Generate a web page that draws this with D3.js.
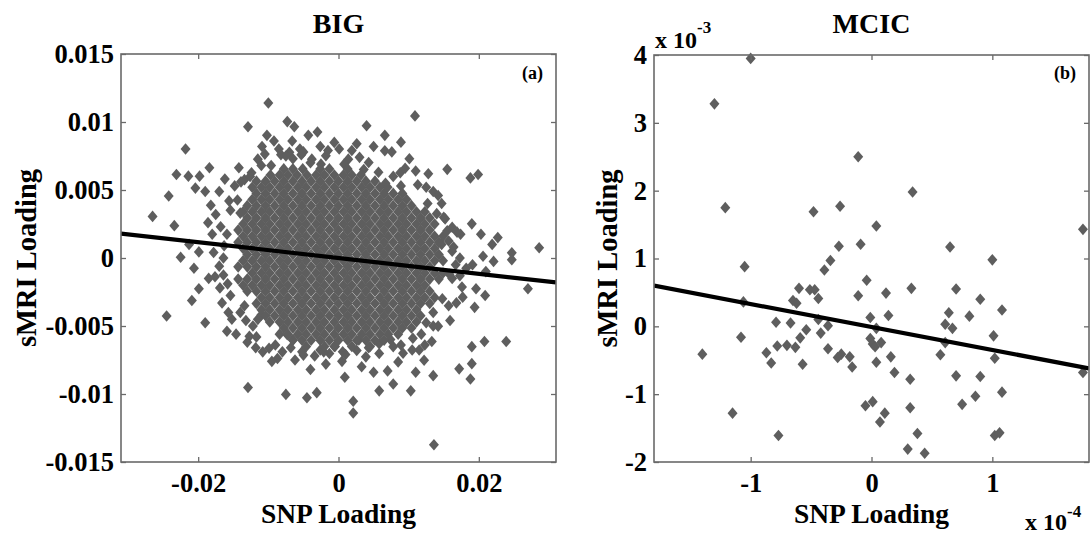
<!DOCTYPE html>
<html>
<head>
<meta charset="utf-8">
<script src="https://cdn.jsdelivr.net/npm/d3@7"></script>
<style>
  html, body { margin: 0; padding: 0; background: #fff; }
  svg { display: block; }
  text { font-family: "Liberation Serif", "Times New Roman", serif; font-weight: bold; fill: #000; }
</style>
</head>
<body>
<svg id="chart" width="1090" height="534"></svg>
<script>
// ---------------- DATA ----------------
// Panel (a) BIG
const bigTitle = "BIG";
const bigXTicks = [-0.02, 0, 0.02];
const bigYTicks = [0.015, 0.01, 0.005, 0, -0.005, -0.01, -0.015];
const bigXDomain = [-0.031, 0.031];
const bigYDomain = [-0.015, 0.015];
// regression line end points
const bigFitX = [-0.031, 0.031];
const bigFitY = [0.0018, -0.0018];

// BIG scatter points, sparse / outer region, in units of 1e-3 : [SNP, sMRI]
const bigOuterMilli = [
  [-26.5,3.06],[-24.2,4.56],[-24.5,-4.26],[-23.4,2.38],[-23.1,6.14],[-21.8,8.02],[-21.4,6.02],
  [-22.5,0.05],[-21.3,1.0],[-20.9,-3.13],[-20.6,-0.75],[-20.4,5.14],[-19.8,6.02],[-18.4,6.64],
  [-19.9,-2.26],[-19.9,0.45],[-19.0,-4.76],[-19.0,4.89],[-18.2,3.88],[-18.0,1.75],[-18.5,-1.5],
  [-17.6,-1.38],[-17.0,4.89],[-16.4,-1.25],[-15.9,-5.39],[-15.7,-4.01],[-14.2,6.64],[-12.9,-9.52],
  [-12.9,9.65],[-12.7,-5.76],[-10.0,11.4],[-10.2,9.02],[-8.7,-7.39],[-9.9,-6.64],[-7.5,-10.03],
  [-7.3,10.03],[-6.3,9.65],[-4.5,-10.28],[-3.1,-9.9],[-3.0,9.27],[-4.3,9.02],[0.9,-8.77],
  [2.1,-10.53],[2.1,-11.4],[4.0,9.72],[2.6,8.4],[5.8,-9.77],[6.6,9.02],[7.8,-9.27],[8.9,8.52],
  [10.3,-9.77],[10.9,10.45],[11.0,-8.4],[11.5,-6.77],[13.5,-8.65],[13.6,-13.73],[13.5,4.89],
  [13.5,-4.01],[13.3,-6.14],[15.5,6.52],[14.0,3.26],[15.2,2.88],[16.2,2.26],[17.2,-8.15],
  [17.4,1.75],[17.3,0.0],[17.7,-2.88],[17.6,-2.13],[18.8,5.89],[19.9,6.14],[18.8,-8.9],
  [19.0,-7.77],[19.0,-6.52],[19.0,2.51],[19.1,-0.5],[19.4,-3.63],[19.6,-2.26],[20.3,1.75],
  [20.6,0.13],[20.8,-6.14],[20.9,-2.76],[21.0,-1.0],[21.9,1.0],[22.1,-0.25],[22.7,1.5],
  [23.9,-6.14],[24.7,0.38],[24.7,-0.13],[27.0,-2.26],[28.6,0.75],[18.2,-0.75],[16.7,-0.5],
  [16.2,0.5],[15.7,1.25],[14.7,1.0],[16.2,-1.5],[15.7,-3.51],[14.2,-5.01],[12.5,-4.76],
  [12.2,-7.52],[10.5,-6.77],[8.5,-7.64],[7.8,-6.52],[5.8,-7.02],[3.9,-7.27],[2.9,-6.02],
  [0.6,-6.89],[-1.3,-7.02],[-2.6,-6.77],[-5.0,-7.14],[-6.5,-6.02],[-7.3,-5.64],[-11.5,-4.51],
  [-13.4,-3.51],[-15.4,-2.76],[-16.4,0.0],[-15.9,1.75],[-15.4,3.51],[-14.4,4.26],[-13.4,5.76],
  [-12.4,6.27],[-11.5,7.27],[-10.5,7.64],[-8.5,8.02],[-7.0,7.77],[-5.5,8.02],[-3.8,7.27],
  [-1.8,7.52],[0.1,8.02],[1.4,7.27],[4.3,7.02],[6.6,7.89],[8.8,6.27],[11.3,5.39],[12.7,4.01],
  [14.7,4.01],
  [-17.5,3.2],[-16.8,2.3],[-16.3,0.9],[-17.0,-0.6],[-15.8,-1.9],[-16.6,-3.3],[-15.2,-4.5],
  [-14.8,5.3],[-15.6,4.2],[-14.6,-5.6],[-13.0,-6.2],[-11.7,-5.8],[-10.8,-6.9],[-9.5,-7.6],
  [-6.2,-7.5],[-4.0,-8.2],[-1.8,-7.8],[0.5,-7.6],[3.3,-8.0],[5.0,-8.4],[7.0,-8.3],[9.2,-7.0],
  [11.8,-5.6],[13.5,-5.0],[14.8,-3.0],[15.8,-1.2],[16.4,0.8],[15.5,2.0],[15.0,3.0],[14.2,4.6],
  [12.5,5.2],[11.0,6.4],[9.5,6.6],[7.6,7.8],[5.0,8.2],[3.0,7.4],[-0.6,8.5],[-2.6,8.2],
  [-5.0,7.8],[-6.6,8.6],[-8.2,7.6],[-9.6,6.8],[-11.0,6.8],[-12.6,6.0],[-13.9,5.6],[-14.0,3.3],
  [-7.5,7.5],[-6.5,7.3],[-5.3,7.6],[-4.0,7.0],[-2.5,6.9],[-1.5,7.9],[0.8,6.9],[1.9,7.9],
  [3.6,6.5],[5.7,6.3],[6.7,5.5],[7.8,6.0],[8.9,5.3],
  [-14.0,-4.0],[-13.2,-4.6],[-12.2,-5.0],[-11.0,-4.2],
  [-8.0,-6.9],[-6.8,-6.6],[-5.2,-6.9],[-3.4,-7.2],[-2.1,-6.9],[-0.5,-6.5],[1.0,-7.1],
  [2.6,-6.8],[4.3,-6.6],[5.8,-6.3],[7.4,-6.0],[8.9,-6.4],[10.6,-5.9],[12.3,-6.4],
  [-16.9,-2.2],[-17.8,0.4],[-18.6,2.6],[-16.2,5.8],[-11.8,-6.6],[-9.0,-6.4],[15.9,-4.6],
  [16.8,-3.3],[17.3,-1.3],[16.9,1.9],[12.8,6.2],[10.1,7.3],[-10.9,8.2],[-9.2,8.6]
];

// BIG dense core, read row by row: [sMRI (1e-3), [SNP values (1e-3)]]
const bigCoreRowsMilli = [
  [6.55, [-7.8,-6.5,-5.1,-2.6,-1.3,1.3]],
  [6.1,  [-9.7,-8.4,-7.2,-5.9,-4.5,-3.2,-2.0,-0.6,0.7,1.9,3.2]],
  [5.65, [-11.7,-10.4,-9.1,-7.8,-6.5,-5.2,-3.9,-2.6,-1.3,0.0,1.3,2.6,3.9,5.2]],
  [5.2,  [-12.3,-11.0,-9.8,-8.4,-7.2,-5.8,-4.6,-3.2,-2.0,-0.6,0.7,1.9,3.3,4.5,5.9,7.0]],
  [4.75, [-11.7,-10.4,-9.1,-7.8,-6.5,-5.2,-3.9,-2.6,-1.3,0.0,1.3,2.6,3.9,5.2,6.5,7.8,9.1]],
  [4.3,  [-12.3,-11.0,-9.8,-8.4,-7.2,-5.8,-4.6,-3.2,-2.0,-0.6,0.7,1.9,3.3,4.5,5.9,7.1,8.5,9.7]],
  [3.85, [-13.0,-11.7,-10.4,-9.1,-7.8,-6.5,-5.2,-3.9,-2.6,-1.3,0.0,1.3,2.6,3.9,5.2,6.5,7.8,9.1,10.4]],
  [3.4,  [-13.6,-12.3,-11.0,-9.8,-8.4,-7.2,-5.8,-4.6,-3.2,-2.0,-0.6,0.7,1.9,3.3,4.5,5.9,7.1,8.5,9.7,11.1,12.3]],
  [2.95, [-13.0,-11.7,-10.4,-9.1,-7.8,-6.5,-5.2,-3.9,-2.6,-1.3,0.0,1.3,2.6,3.9,5.2,6.5,7.8,9.1,10.4,11.7,13.0]],
  [2.5,  [-13.6,-12.3,-11.0,-9.8,-8.4,-7.2,-5.8,-4.6,-3.2,-2.0,-0.6,0.7,1.9,3.3,4.5,5.9,7.1,8.5,9.7,11.1,12.3,13.7]],
  [2.05, [-14.3,-13.0,-11.7,-10.4,-9.1,-7.8,-6.5,-5.2,-3.9,-2.6,-1.3,0.0,1.3,2.6,3.9,5.2,6.5,7.8,9.1,10.4,11.7,13.0]],
  [1.6,  [-13.6,-12.3,-11.0,-9.8,-8.4,-7.2,-5.8,-4.6,-3.2,-2.0,-0.6,0.7,1.9,3.3,4.5,5.9,7.1,8.5,9.7,11.1,12.3,13.7,14.9]],
  [1.15, [-14.3,-13.0,-11.7,-10.4,-9.1,-7.8,-6.5,-5.2,-3.9,-2.6,-1.3,0.0,1.3,2.6,3.9,5.2,6.5,7.8,9.1,10.4,11.7,13.0,14.3]],
  [0.7,  [-13.6,-12.3,-11.0,-9.8,-8.4,-7.2,-5.8,-4.6,-3.2,-2.0,-0.6,0.7,1.9,3.3,4.5,5.9,7.1,8.5,9.7,11.1,12.3,13.7]],
  [0.25, [-13.0,-11.7,-10.4,-9.1,-7.8,-6.5,-5.2,-3.9,-2.6,-1.3,0.0,1.3,2.6,3.9,5.2,6.5,7.8,9.1,10.4,11.7,13.0,14.3]],
  [-0.2, [-13.6,-12.3,-11.0,-9.8,-8.4,-7.2,-5.8,-4.6,-3.2,-2.0,-0.6,0.7,1.9,3.3,4.5,5.9,7.1,8.5,9.7,11.1,12.3,13.7,14.9]],
  [-0.65,[-14.3,-13.0,-11.7,-10.4,-9.1,-7.8,-6.5,-5.2,-3.9,-2.6,-1.3,0.0,1.3,2.6,3.9,5.2,6.5,7.8,9.1,10.4,11.7,13.0]],
  [-1.1, [-12.3,-11.0,-9.8,-8.4,-7.2,-5.8,-4.6,-3.2,-2.0,-0.6,0.7,1.9,3.3,4.5,5.9,7.1,8.5,9.7,11.1,12.3,13.7,14.9]],
  [-1.55,[-14.3,-13.0,-11.7,-10.4,-9.1,-7.8,-6.5,-5.2,-3.9,-2.6,-1.3,0.0,1.3,2.6,3.9,5.2,6.5,7.8,9.1,10.4,11.7,13.0,14.3]],
  [-2.0, [-13.6,-12.3,-11.0,-9.8,-8.4,-7.2,-5.8,-4.6,-3.2,-2.0,-0.6,0.7,1.9,3.3,4.5,5.9,7.1,8.5,9.7,11.1,12.3]],
  [-2.45,[-13.0,-11.7,-10.4,-9.1,-7.8,-6.5,-5.2,-3.9,-2.6,-1.3,0.0,1.3,2.6,3.9,5.2,6.5,7.8,9.1,10.4,11.7,13.0]],
  [-2.9, [-11.0,-9.8,-8.4,-7.2,-5.8,-4.6,-3.2,-2.0,-0.6,0.7,1.9,3.3,4.5,5.9,7.1,8.5,9.7,11.1,12.3,13.7]],
  [-3.35,[-11.7,-10.4,-9.1,-7.8,-6.5,-5.2,-3.9,-2.6,-1.3,0.0,1.3,2.6,3.9,5.2,6.5,7.8,9.1,10.4,11.7,13.0]],
  [-3.8, [-11.0,-9.8,-8.4,-7.2,-5.8,-4.6,-3.2,-2.0,-0.6,0.7,1.9,3.3,4.5,5.9,7.1,8.5,9.7,11.1]],
  [-4.25,[-10.4,-9.1,-7.8,-6.5,-5.2,-3.9,-2.6,-1.3,0.0,1.3,2.6,3.9,5.2,6.5,7.8,9.1,10.4,11.7]],
  [-4.7, [-9.8,-8.4,-7.2,-5.8,-4.6,-3.2,-2.0,-0.6,0.7,1.9,3.3,4.5,5.9,7.1,8.5,9.7,11.1]],
  [-5.15,[-7.8,-6.5,-5.2,-3.9,-2.6,-1.3,0.0,1.3,2.6,3.9,5.2,6.5,7.8,9.1,10.4]],
  [-5.6, [-8.4,-7.2,-5.8,-4.6,-3.2,-2.0,-0.6,0.7,1.9,3.3,4.5,5.9,7.1,8.5]],
  [-6.05,[-6.5,-5.2,-3.9,-2.6,-1.3,0.0,1.3,2.6,3.9,5.2,6.5]],
  [-6.5, [-4.6,-2.0,-0.6,1.9,4.5]]
];

// Panel (b) MCIC
const mcicTitle = "MCIC";
const mcicXTicks = [-1, 0, 1];              // ×1e-4
const mcicYTicks = [4, 3, 2, 1, 0, -1, -2]; // ×1e-3
const mcicXDomain = [-1.8, 1.8];
const mcicYDomain = [-2, 4];
const mcicFitX = [-1.8, 1.8];
const mcicFitY = [0.6, -0.62];
// [SNP (×1e-4), sMRI (×1e-3)]
const mcicPoints = [
  [-1.00,3.95],[-1.30,3.28],[-1.21,1.75],[-1.05,0.88],[-1.06,0.36],[-1.08,-0.16],[-1.40,-0.41],
  [-1.15,-1.28],[-0.77,-1.61],[-0.87,-0.39],[-0.83,-0.54],[-0.79,0.06],[-0.78,-0.29],[-0.70,-0.28],
  [-0.67,0.05],[-0.65,0.38],[-0.62,0.34],[-0.63,-0.31],[-0.60,0.56],[-0.59,-0.17],[-0.57,-0.56],
  [-0.54,-0.05],[-0.51,0.54],[-0.47,0.54],[-0.48,1.69],[-0.44,0.41],[-0.44,0.10],[-0.42,-0.10],
  [-0.39,0.83],[-0.36,0.01],[-0.36,-0.33],[-0.34,0.97],[-0.27,1.18],[-0.26,1.77],[-0.28,-0.46],
  [-0.25,-0.41],[-0.18,-0.45],[-0.16,-0.60],[-0.11,2.50],[-0.09,1.21],[-0.11,0.45],[-0.04,0.68],
  [-0.05,-1.17],[-0.01,0.13],[-0.01,-0.18],[0.01,-0.26],[0.03,-0.30],[0.04,1.48],[0.01,-1.11],
  [0.04,-0.53],[0.04,-0.03],[0.07,-1.41],[0.08,-0.24],[0.11,-1.28],[0.12,0.49],[0.14,0.16],
  [0.16,-0.45],[0.19,-0.68],[0.30,-1.81],[0.32,-0.78],[0.32,-1.20],[0.33,0.56],[0.34,1.98],
  [0.38,-1.58],[0.44,-1.87],[0.57,-0.42],[0.61,0.03],[0.61,-0.24],[0.64,0.20],[0.65,1.17],
  [0.67,-0.03],[0.70,0.55],[0.70,-0.73],[0.75,-1.15],[0.81,0.15],[0.86,-1.03],[0.90,0.40],
  [0.90,-0.74],[1.00,0.98],[1.01,-0.14],[1.02,-0.47],[1.02,-1.61],[1.06,-1.57],[1.08,0.24],
  [1.08,-0.97],[1.75,1.43],[1.75,-0.68]
];

// ---------------- DRAW ----------------
const svg = d3.select("#chart");
svg.append("rect").attr("width", 1090).attr("height", 534).attr("fill", "#fff");

const MARK = "#5e5e5e";
const BOX = "#6a6a6a";
const HW = 5, HH = 5.8;
const diamond = `M0,${-HH}L${HW},0L0,${HH}L${-HW},0Z`;
const hyphen = s => String(s).replace("\u2212", "-");
const TICK_FS = 26.5, LAB_FS = 27.5, TITLE_FS = 28;

function panel(opt) {
  const g = svg.append("g");
  const x = d3.scaleLinear().domain(opt.xDomain).range([opt.left, opt.right]);
  const y = d3.scaleLinear().domain(opt.yDomain).range([opt.bottom, opt.top]);
  const clipId = "clip-" + opt.id;
  svg.append("clipPath").attr("id", clipId).append("rect")
    .attr("x", opt.left).attr("y", opt.top)
    .attr("width", opt.right - opt.left).attr("height", opt.bottom - opt.top);

  g.append("g").selectAll("path").data(opt.points).join("path")
    .attr("d", diamond)
    .attr("transform", d => `translate(${x(d.x)},${y(d.y)})`)
    .attr("fill", MARK);

  const line = d3.line().x(d => x(d[0])).y(d => y(d[1]));
  g.append("path").datum(opt.fitX.map((v, i) => [v, opt.fitY[i]]))
    .attr("d", line).attr("fill", "none").attr("stroke", "#000")
    .attr("stroke-width", 4.2).attr("clip-path", `url(#${clipId})`);

  const ax = [
    [d3.axisBottom(x).tickValues(opt.xTicks).tickFormat(opt.fmtX).tickSize(-5).tickPadding(11), `translate(0,${opt.bottom})`],
    [d3.axisTop(x).tickValues(opt.xTicks).tickFormat("").tickSize(-5), `translate(0,${opt.top})`],
    [d3.axisLeft(y).tickValues(opt.yTicks).tickFormat(opt.fmtY).tickSize(-5).tickPadding(7), `translate(${opt.left},0)`],
    [d3.axisRight(y).tickValues(opt.yTicks).tickFormat("").tickSize(-5), `translate(${opt.right},0)`]
  ];
  ax.forEach(([a, t]) => {
    const ag = g.append("g").attr("transform", t).call(a);
    ag.select(".domain").remove();
    ag.selectAll("line").attr("stroke", BOX).attr("stroke-width", 1.3);
    ag.selectAll("text").attr("font-family", "Liberation Serif").attr("font-weight", "bold")
      .attr("font-size", TICK_FS).attr("fill", "#000");
  });
  g.append("rect").attr("x", opt.left).attr("y", opt.top)
    .attr("width", opt.right - opt.left).attr("height", opt.bottom - opt.top)
    .attr("fill", "none").attr("stroke", BOX).attr("stroke-width", 1.6);

  g.append("text").attr("x", (opt.left + opt.right) / 2).attr("y", 33)
    .attr("text-anchor", "middle").attr("font-size", TITLE_FS).text(opt.title);
  g.append("text").attr("x", opt.right - 13).attr("y", 79)
    .attr("text-anchor", "end").attr("font-size", 18).text(opt.letter);
  g.append("text").attr("x", (opt.left + opt.right) / 2).attr("y", 523)
    .attr("text-anchor", "middle").attr("font-size", LAB_FS).text("SNP Loading");
  g.append("text").attr("transform", `translate(${opt.ylabX},${(opt.top + opt.bottom) / 2}) rotate(-90)`)
    .attr("text-anchor", "middle").attr("font-size", LAB_FS + 1).text("sMRI Loading");
  return g;
}

const bigPoints = bigOuterMilli.map(p => ({ x: p[0] * 1e-3, y: p[1] * 1e-3 }))
  .concat(bigCoreRowsMilli.flatMap(r => r[1].map(xv => ({ x: xv * 1e-3, y: r[0] * 1e-3 }))));

panel({
  id: "a", left: 121, right: 556, top: 54, bottom: 462,
  xDomain: bigXDomain, yDomain: bigYDomain,
  xTicks: bigXTicks, yTicks: bigYTicks,
  fmtX: d => hyphen(+d.toFixed(3)),
  fmtY: d => hyphen(+d.toFixed(3)),
  points: bigPoints, fitX: bigFitX, fitY: bigFitY,
  title: bigTitle, letter: "(a)", ylabX: 36
});

panel({
  id: "b", left: 654, right: 1089, top: 55, bottom: 462,
  xDomain: mcicXDomain, yDomain: mcicYDomain,
  xTicks: mcicXTicks, yTicks: mcicYTicks,
  fmtX: d => hyphen(d), fmtY: d => hyphen(d),
  points: mcicPoints.map(p => ({ x: p[0], y: p[1] })),
  fitX: mcicFitX, fitY: mcicFitY,
  title: mcicTitle, letter: "(b)", ylabX: 617
});

const e3 = svg.append("text").attr("x", 655).attr("y", 48).attr("font-size", 24);
e3.append("tspan").text("x 10");
e3.append("tspan").attr("dy", -15).attr("font-size", 17).text("-3");

const e4 = svg.append("text").attr("x", 1025).attr("y", 530).attr("font-size", 24);
e4.append("tspan").text("x 10");
e4.append("tspan").attr("dy", -13).attr("font-size", 17).text("-4");
</script>
</body>
</html>
